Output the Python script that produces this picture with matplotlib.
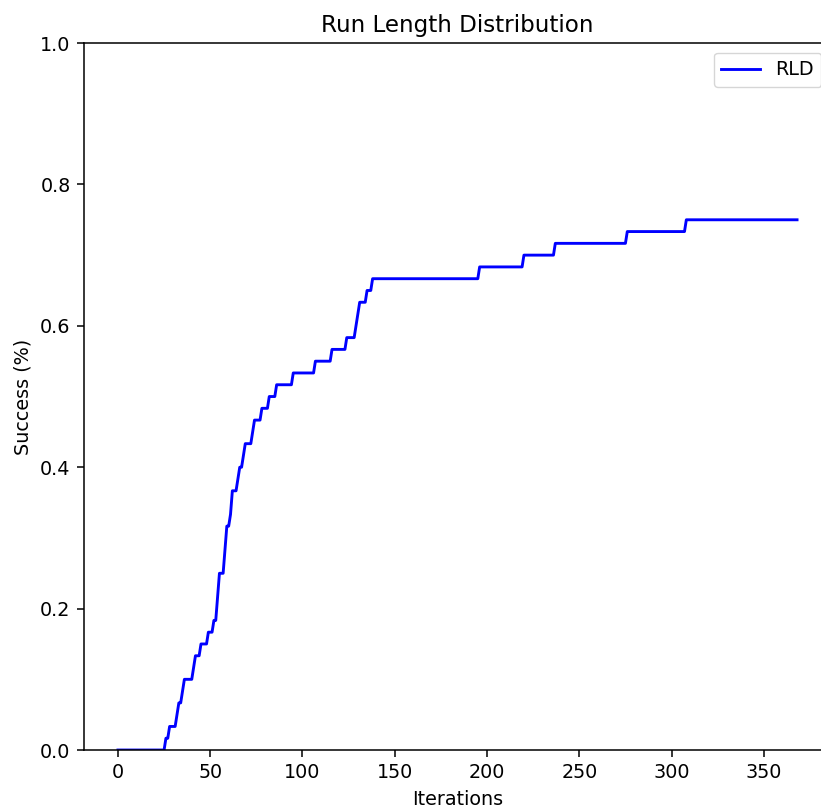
import matplotlib
matplotlib.use("Agg")
import matplotlib.pyplot as plt
import numpy as np

# Iteration at which each successful run reached the target (60 runs in total)
success_iters = [26, 28, 32, 33, 35, 36, 41, 42, 45, 49, 52,
                 54, 54, 55, 55, 58, 58, 59, 59, 61, 62, 62,
                 65, 66, 68, 69, 73, 74, 78, 82, 86, 95, 107,
                 116, 124, 129, 130, 131, 135, 138,
                 196, 220, 237, 276, 308]
n_runs = 60
max_iter = 368

# Empirical run length distribution: fraction of runs solved by each iteration
iterations = np.arange(0, max_iter + 1)
solved = np.searchsorted(np.sort(success_iters), iterations, side="right")
rld = solved / n_runs

# Everything drawn a bit larger than the matplotlib defaults
scale = 1.38
plt.rcParams['font.size'] = 10 * scale
plt.rcParams['axes.linewidth'] = 0.8 * scale
plt.rcParams['axes.titlepad'] = 6 * scale
plt.rcParams['axes.labelpad'] = 4 * scale
for axis in ('xtick', 'ytick'):
    plt.rcParams[axis + '.major.size'] = 3.5 * scale
    plt.rcParams[axis + '.major.width'] = 0.8 * scale
    plt.rcParams[axis + '.major.pad'] = 3.5 * scale

fig = plt.figure(figsize=(8.21, 8.09), dpi=100)
ax = fig.add_axes([0.1023, 0.0729, 0.9099, 0.8739])

ax.plot(iterations, rld, color="blue", linewidth=1.5 * scale, label="RLD")
ax.set_ylim(0, 1.0)
ax.set_title("Run Length Distribution", fontsize=12 * scale)
ax.set_xlabel("Iterations")
ax.set_ylabel("Success (%)")
ax.legend(loc="upper right")

fig.savefig("out.png", dpi=100)
